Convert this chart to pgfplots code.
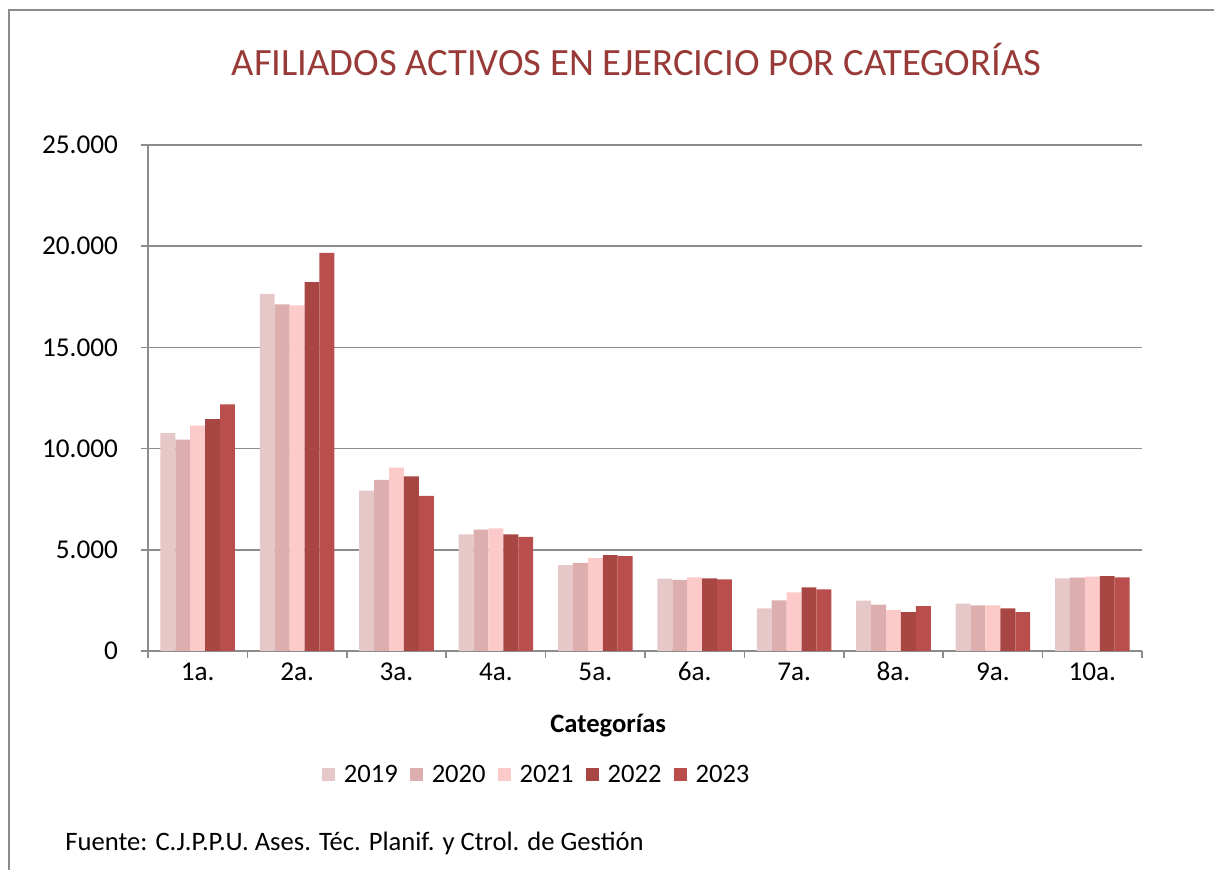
\documentclass[border=0pt]{standalone}
\usepackage{fontspec}
\setmainfont{Carlito}
\usepackage{pgfplots}
\pgfplotsset{compat=1.18}

\definecolor{c19}{HTML}{E6C8C8}
\definecolor{c20}{HTML}{DCAEAE}
\definecolor{c21}{HTML}{FDCACA}
\definecolor{c22}{HTML}{A84644}
\definecolor{c23}{HTML}{B94E4C}
\definecolor{titlered}{HTML}{983A38}
\definecolor{gridgray}{HTML}{8C8C8C}

\begin{document}
\begin{tikzpicture}
\useasboundingbox (-74pt,-109.5pt) rectangle (533pt,325.5pt);
\draw[gridgray,line width=0.75pt] (-69.5pt,-110pt) -- (-69.5pt,320.5pt) -- (534pt,320.5pt);
\begin{axis}[
  at={(0,0)}, anchor=south west,
  scale only axis, width=497pt, height=253pt,
  ybar=0pt, bar width=0.15,
  xmin=-0.5, xmax=9.5, ymin=0, ymax=25000,
  xtick={-0.5,0.5,...,9.5},
  x tick label as interval,
  xticklabels={1a.,2a.,3a.,4a.,5a.,6a.,7a.,8a.,9a.,10a.},
  xticklabel style={text height=1.6ex, text depth=0.3ex},
  ytick={0,5000,10000,15000,20000,25000},
  scaled y ticks=false,
  yticklabel style={xshift=-8pt,/pgf/number format/.cd,1000 sep={.},assume math mode=true},
  ticklabel style={font=\fontsize{13.6}{15}\selectfont, text=black},
  axis x line*=bottom, axis y line*=left,
  axis line style={gridgray,line width=0.75pt,-},
  tick style={gridgray,line width=0.75pt},
  tick align=outside, major tick length=3.5pt,
  ymajorgrids, grid style={gridgray,line width=0.75pt},
  xlabel={\textbf{Categorías}},
  xlabel style={font=\fontsize{13.3}{15}\selectfont, at={(0.463,0)}, anchor=center, yshift=-37.5pt},
  legend style={draw=none, at={(0.392,-0.245)}, anchor=center,
    legend columns=5, font=\fontsize{13.3}{15}\selectfont,
    /tikz/every odd column/.append style={column sep=2.5pt},
    /tikz/every even column/.append style={column sep=4pt}},
  legend image code/.code={\fill[#1] (0pt,-3.2pt) rectangle (6.5pt,3.3pt);},
  title={AFILIADOS ACTIVOS EN EJERCICIO POR CATEGORÍAS},
  title style={font=\fontsize{19.3}{22}\selectfont, text=titlered, at={(0.4915,1)}, anchor=center, yshift=36.5pt},
]
\addplot[fill=c19,draw=none] coordinates {(0,10770) (1,17640) (2,7920) (3,5765) (4,4240) (5,3577) (6,2103) (7,2484) (8,2335) (9,3594)};
\addplot[fill=c20,draw=none] coordinates {(0,10440) (1,17130) (2,8450) (3,5995) (4,4355) (5,3511) (6,2500) (7,2285) (8,2252) (9,3627)};
\addplot[fill=c21,draw=none] coordinates {(0,11130) (1,17080) (2,9058) (3,6060) (4,4587) (5,3643) (6,2898) (7,2020) (8,2252) (9,3676)};
\addplot[fill=c22,draw=none] coordinates {(0,11460) (1,18220) (2,8630) (3,5765) (4,4736) (5,3594) (6,3146) (7,1921) (8,2103) (9,3693)};
\addplot[fill=c23,draw=none] coordinates {(0,12190) (1,19665) (2,7660) (3,5633) (4,4686) (5,3544) (6,3047) (7,2219) (8,1921) (9,3643)};
\legend{2019,2020,2021,2022,2023}
\end{axis}
\node[anchor=west, inner sep=0pt, font=\fontsize{13.3}{15}\selectfont] at (-41.5pt,-96pt) {Fuente: C.J.P.P.U. Ases. Téc. Planif. y Ctrol. de Gestión};
\end{tikzpicture}
\end{document}
